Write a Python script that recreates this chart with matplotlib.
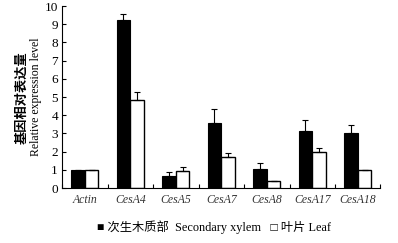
import matplotlib
matplotlib.use("Agg")
import matplotlib.pyplot as plt
import numpy as np

genes = ["Actin", "CesA4", "CesA5", "CesA7", "CesA8", "CesA17", "CesA18"]
xylem = [1.0, 9.25, 0.65, 3.59, 1.03, 3.13, 3.0]
xylem_err = [0.0, 0.30, 0.25, 0.77, 0.33, 0.61, 0.46]
leaf = [1.0, 4.85, 0.95, 1.70, 0.40, 1.96, 0.99]
leaf_err = [0.0, 0.45, 0.20, 0.24, 0.0, 0.25, 0.0]
yticks = list(range(0, 11))

serif = ["Liberation Serif", "DejaVu Serif"]

fig = plt.figure(figsize=(3.98, 2.43), dpi=100)
ax = fig.add_axes([0.156, 0.226, 0.80, 0.749])

x = np.arange(len(genes))
w = 0.3
ax.bar(x - w/2, xylem, w, color="black", edgecolor="black", linewidth=0.8, zorder=2)
ax.bar(x + w/2, leaf, w, color="white", edgecolor="black", linewidth=1.0, zorder=2)
ax.errorbar(x - w/2, xylem, yerr=[np.zeros(len(x)), xylem_err], fmt="none",
            ecolor="black", elinewidth=0.8, capsize=2, capthick=0.8, zorder=3)
ax.errorbar(x + w/2, leaf, yerr=[np.zeros(len(x)), leaf_err], fmt="none",
            ecolor="black", elinewidth=0.8, capsize=2, capthick=0.8, zorder=3)

ax.set_xlim(-0.5, len(genes) - 0.5)
ax.set_ylim(0, 10)
ax.set_yticks(yticks)
ax.set_yticklabels([str(t) for t in yticks], family=serif, fontsize=9.5)
ax.set_xticks(np.arange(len(genes) + 1) - 0.5)
ax.set_xticklabels([])
ax.set_xticks(x, minor=True)
ax.set_xticklabels(genes, minor=True, family=serif, style="italic", fontsize=8.5, color="#333333")
ax.tick_params(axis="x", which="major", direction="in", length=3, width=0.8)
ax.tick_params(axis="x", which="minor", length=0, pad=4)
ax.tick_params(axis="y", direction="in", length=3, width=0.8, pad=3)
for s in ["top", "right"]:
    ax.spines[s].set_visible(False)
for s in ["left", "bottom"]:
    ax.spines[s].set_linewidth(0.8)

fig.text(0.055, 0.6, "基因相对表达量", rotation=90, ha="center", va="center",
         family=["Noto Sans CJK SC"], fontsize=9.5, fontweight="bold")
fig.text(0.09, 0.6, "Relative expression level", rotation=90, ha="center", va="center",
         family=serif, fontsize=8.5)

fig.text(0.538, 0.064, "■ 次生木质部  Secondary xylem   □ 叶片 Leaf", ha="center", va="center",
         family=["Liberation Serif", "Noto Sans CJK SC", "DejaVu Sans"], fontsize=8.8)

fig.savefig("out.png", dpi=100)
